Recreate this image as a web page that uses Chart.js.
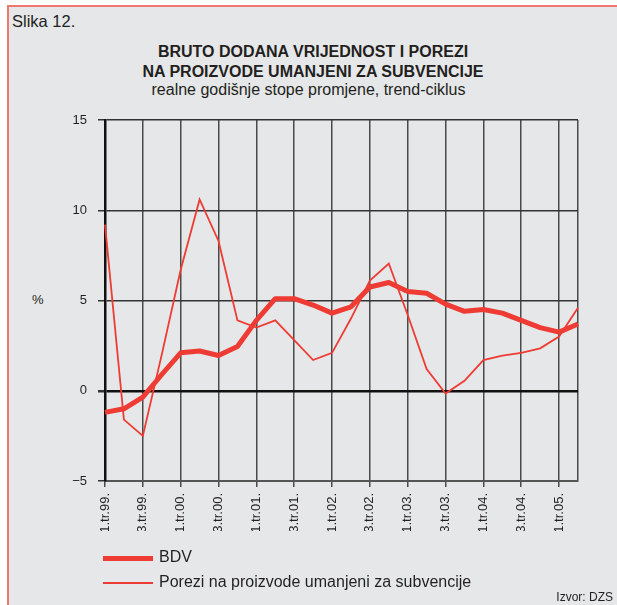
<!DOCTYPE html>
<html>
<head>
<meta charset="utf-8">
<script src="https://cdn.jsdelivr.net/npm/chart.js@4"></script>
<style>
    html, body { margin: 0; padding: 0; background: #fff; }
    body { width: 617px; height: 605px; position: relative; overflow: hidden; font-family: "Liberation Sans", Arial, sans-serif; color: #231f20; }
    #frame { position: absolute; left: 7px; top: 5px; right: 0; bottom: 0; background: #e6e7e9; border-left: 2px solid #ee7770; border-top: 2px solid #ee7770; }
    #chart-wrap { position: absolute; left: 0; top: 0; width: 617px; height: 605px; }
    .txt { position: absolute; white-space: nowrap; }
    .legend-line { position: absolute; background: #ee3b33; }
</style>
</head>
<body>
<div id="frame"></div>
<div class="txt" style="left:12px; top:12px; font-size:16.5px;">Slika 12.</div>
<div class="txt" style="left:0; width:626px; top:42px; text-align:center; font-size:16px; font-weight:bold; line-height:20px;">BRUTO DODANA VRIJEDNOST I POREZI<br>NA PROIZVODE UMANJENI ZA SUBVENCIJE</div>
<div class="txt" style="left:0; width:617px; top:81px; text-align:center; font-size:16px;">realne godišnje stope promjene, trend-ciklus</div>
<div class="txt" style="left:32px; top:292px; font-size:13px;">%</div>
<div id="chart-wrap"><canvas id="chart" width="617" height="605"></canvas></div>
<div class="legend-line" style="left:103px; top:556px; width:50px; height:5px;"></div>
<div class="txt" style="left:159px; top:548px; font-size:16px;">BDV</div>
<div class="legend-line" style="left:103px; top:582px; width:50px; height:2px;"></div>
<div class="txt" style="left:159px; top:573px; font-size:16px;">Porezi na proizvode umanjeni za subvencije</div>
<div class="txt" style="right:4px; top:590px; font-size:12px;">Izvor: DZS</div>

<script>
// Static Data
const quarters = [
    '1.tr.99.', '2.tr.99.', '3.tr.99.', '4.tr.99.',
    '1.tr.00.', '2.tr.00.', '3.tr.00.', '4.tr.00.',
    '1.tr.01.', '2.tr.01.', '3.tr.01.', '4.tr.01.',
    '1.tr.02.', '2.tr.02.', '3.tr.02.', '4.tr.02.',
    '1.tr.03.', '2.tr.03.', '3.tr.03.', '4.tr.03.',
    '1.tr.04.', '2.tr.04.', '3.tr.04.', '4.tr.04.',
    '1.tr.05.', '2.tr.05.'
];

const bdv = [
    -1.2, -1.0, -0.35, 0.9, 2.1, 2.2, 1.95, 2.45,
    3.9, 5.1, 5.1, 4.75, 4.3, 4.65, 5.75, 6.0,
    5.5, 5.4, 4.8, 4.4, 4.5, 4.3, 3.9, 3.5,
    3.25, 3.7
];

const porezi = [
    9.2, -1.6, -2.5, 2.0, 6.7, 10.6, 8.3, 3.9,
    3.5, 3.9, 2.8, 1.7, 2.1, 4.0, 6.1, 7.05,
    4.2, 1.2, -0.15, 0.55, 1.7, 1.95, 2.1, 2.35,
    3.0, 4.6
];

const yTicks = [-5, 0, 5, 10, 15];

const lastIndex = quarters.length - 1;

// Chart
const ctx = document.getElementById('chart').getContext('2d');
const chart = new Chart(ctx, {
    type: 'line',
    data: {
        labels: quarters,
        datasets: [
            {
                label: 'BDV',
                data: bdv,
                borderColor: '#ee3b33',
                borderWidth: 5,
                pointRadius: 0,
                tension: 0,
                borderJoinStyle: 'round'
            },
            {
                label: 'Porezi na proizvode umanjeni za subvencije',
                data: porezi,
                borderColor: '#ee3b33',
                borderWidth: 1.8,
                pointRadius: 0,
                tension: 0
            }
        ]
    },
    options: {
        responsive: false,
        animation: false,
        layout: { padding: { left: 0, right: 39, top: 120, bottom: 74 } },
        plugins: {
            legend: { display: false },
            tooltip: { enabled: false }
        },
        scales: {
            x: {
                type: 'category',
                offset: false,
                afterFit: scale => { scale.height = 50; },
                border: { display: true, color: '#555', width: 2 },
                grid: {
                    drawOnChartArea: true,
                    tickLength: 6,
                    lineWidth: 1.5,
                    color: c => (c.index % 2 === 0 || c.index === lastIndex) ? '#4a4a4a' : 'rgba(0,0,0,0)',
                    tickColor: c => (c.index % 2 === 0) ? '#4a4a4a' : 'rgba(0,0,0,0)'
                },
                ticks: {
                    autoSkip: false,
                    maxRotation: 90,
                    minRotation: 90,
                    padding: 6,
                    color: '#231f20',
                    font: { family: 'Liberation Sans', size: 13 },
                    callback: (v, i) => (i % 2 === 0) ? quarters[i] : ''
                }
            },
            y: {
                min: -5,
                max: 15,
                afterFit: scale => { scale.width = 105; },
                afterBuildTicks: scale => { scale.ticks = yTicks.map(v => ({ value: v })); },
                border: { display: true, color: '#111', width: 2.5 },
                grid: {
                    tickLength: 7,
                    lineWidth: c => c.tick && c.tick.value === 0 ? 2.5 : 1.5,
                    color: c => c.tick && c.tick.value === 0 ? '#111' : (c.tick && c.tick.value === -5 ? '#555' : '#333'),
                    tickColor: '#333'
                },
                ticks: {
                    padding: 11,
                    color: '#231f20',
                    font: { family: 'Liberation Sans', size: 13 },
                    callback: v => v < 0 ? '\u2212' + Math.abs(v) : String(v)
                }
            }
        }
    }
});
</script>
</body>
</html>
